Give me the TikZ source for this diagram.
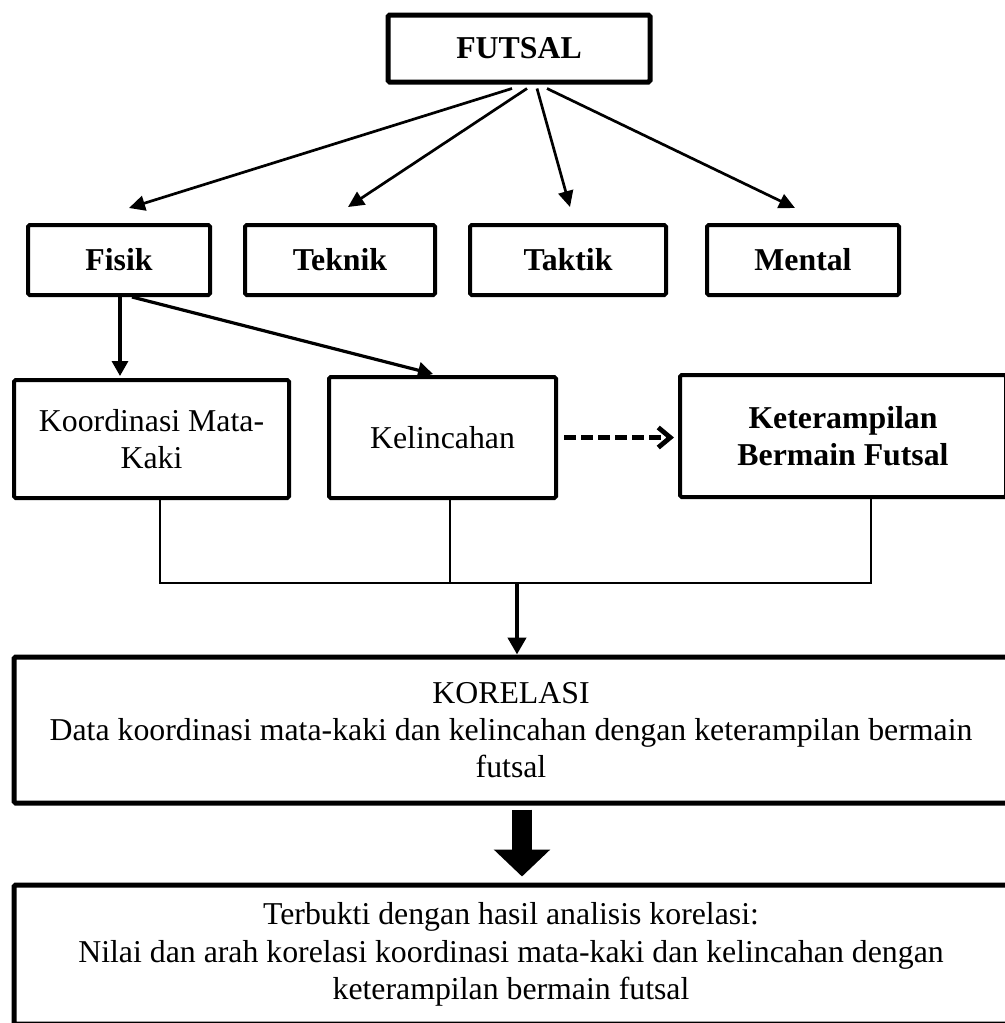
\documentclass[tikz,border=0pt]{standalone}
\usepackage{fontspec}
\setmainfont{Liberation Serif}
\usetikzlibrary{arrows.meta,calc}

\begin{document}
\begin{tikzpicture}[x=0.5pt,y=-0.5pt,
    kotak/.style={draw,line width=2pt,rounded corners=0.8pt,inner sep=0pt,align=center,
      font=\fontsize{15.9}{18.6}\selectfont},
    tebal/.style={kotak,line width=2.5pt},
    huruftebal/.style={font=\fontsize{15.9}{18.6}\selectfont\bfseries},
    panah/.style={line width=1.35pt,-{Triangle[length=8pt,width=7.5pt]}},
    garis/.style={line width=0.6pt}]
    \useasboundingbox (0,0) rectangle (1005,1023);
    % baris atas
    \node[tebal,huruftebal,minimum width=131pt,minimum height=33.5pt] (futsal) at (519,48.5) {FUTSAL};
    \node[kotak,huruftebal,minimum width=91pt,minimum height=35pt] (fisik) at (119,260) {Fisik};
    \node[kotak,huruftebal,minimum width=95pt,minimum height=35pt] (teknik) at (340,260) {Teknik};
    \node[kotak,huruftebal,minimum width=98pt,minimum height=35pt] (taktik) at (568,260) {Taktik};
    \node[kotak,huruftebal,minimum width=96pt,minimum height=35pt] (mental) at (803,260) {Mental};
    % variabel
    \node[kotak,minimum width=137.5pt,minimum height=59pt] (koordinasi) at (151.5,439) {Koordinasi Mata-\\Kaki};
    \node[kotak,minimum width=113.5pt,minimum height=60.5pt] (kelincahan) at (442.5,437.5) {Kelincahan};
    \node[kotak,huruftebal,minimum width=163pt,minimum height=61pt] (keterampilan) at (843,436) {Keterampilan\\Bermain Futsal};
    % korelasi dan hasil
    \node[tebal,minimum width=497pt,minimum height=73pt] (korelasi) at (511,730) {KORELASI\\Data koordinasi mata-kaki dan kelincahan dengan keterampilan bermain\\futsal};
    \node[tebal,minimum width=497pt,minimum height=69.5pt] (hasil) at (511,954.5) {Terbukti dengan hasil analisis korelasi:\\Nilai dan arah korelasi koordinasi mata-kaki dan kelincahan dengan\\keterampilan bermain futsal};
    % panah dari futsal
    \draw[panah] ($(futsal.south)+(-7,4)$) -- ($(fisik.north)+(10,-15)$);
    \draw[panah] ($(futsal.south)+(8,4)$) -- ($(teknik.north)+(8,-16)$);
    \draw[panah] ($(futsal.south)+(18,4)$) -- ($(taktik.north)+(2,-16)$);
    \draw[panah] ($(futsal.south)+(28,4)$) -- ($(mental.north)+(-8,-15)$);
    % panah dari fisik
    \draw[panah,line width=1.6pt,-{Triangle[length=7.5pt,width=8pt]}] ($(fisik.south)+(1,0)$) -- ($(koordinasi.north)+(-31.5,-2)$);
    \draw[panah,line width=1.6pt,-{Triangle[length=7.5pt,width=8pt]}] ($(fisik.south)+(13,0)$) -- ($(kelincahan.north)+(-9.5,-1)$);
    \draw[line width=2.4pt,dash pattern=on 6pt off 2.5pt,-{Straight Barb[length=6pt,width=10pt]}]
        ($(kelincahan.east)+(6,0)$) -- ($(keterampilan.west |- kelincahan.east)+(-4,0)$);
    % garis gabungan
    \coordinate (gabung) at (517,583);
    \draw[garis] ($(koordinasi.south)+(8.5,0)$) |- (gabung) -| ($(keterampilan.south)+(28,0)$);
    \draw[garis] ($(kelincahan.south)+(7.5,0)$) |- (gabung);
    \draw[line width=2.2pt,-{Triangle[length=8.5pt,width=9pt]}] (gabung) -- (gabung |- korelasi.north);
    \draw[line width=10pt,-{Triangle[length=13.5pt,width=27.5pt]}] ($(korelasi.south)+(11,4)$) -- ($(hasil.north)+(11,-6)$);
\end{tikzpicture}
\end{document}
